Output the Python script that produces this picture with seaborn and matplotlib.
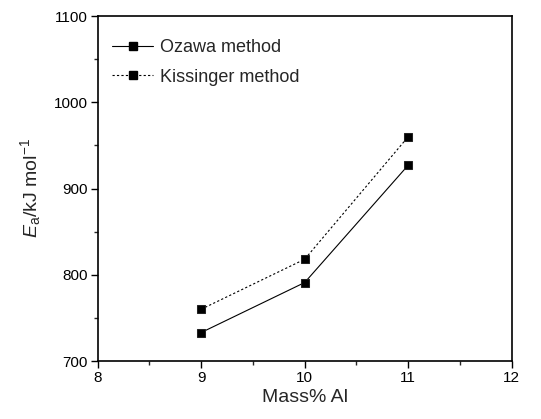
import matplotlib
matplotlib.use("Agg")
import matplotlib.pyplot as plt
from matplotlib.lines import Line2D
from matplotlib.ticker import MultipleLocator
import seaborn as sns
import pandas as pd

mass_al = [9, 10, 11]
ozawa = [733, 791, 927]
kissinger = [760, 818, 960]
series_names = ["Ozawa method", "Kissinger method"]

sns.set_style("ticks")
plt.rcParams['font.family'] = ['Liberation Sans', 'DejaVu Sans']
plt.rcParams['mathtext.fontset'] = 'custom'
plt.rcParams['mathtext.it'] = 'Liberation Sans:italic'
plt.rcParams['mathtext.rm'] = 'Liberation Sans'

df = pd.DataFrame({
    "Mass% Al": mass_al * 2,
    "Ea": ozawa + kissinger,
    "method": [series_names[0]] * 3 + [series_names[1]] * 3,
})

fig = plt.figure(figsize=(5.41, 4.19), dpi=100)
ax = fig.add_axes([0.1806, 0.1384, 0.7652, 0.8234])

sns.lineplot(data=df, x="Mass% Al", y="Ea", hue="method", style="method",
             palette=["black", "black"], dashes=[(None, None), (2, 2)],
             markers=["s", "s"], markersize=5.5, markeredgecolor="#222222",
             linewidth=0.8, ax=ax, legend=False)

ax.set_xlim(8, 12)
ax.set_ylim(700, 1100)
ax.xaxis.set_major_locator(MultipleLocator(1))
ax.xaxis.set_minor_locator(MultipleLocator(0.5))
ax.yaxis.set_major_locator(MultipleLocator(100))
ax.yaxis.set_minor_locator(MultipleLocator(50))
ax.tick_params(which="major", direction="out", length=5, width=1.0, labelsize=11, colors="black", pad=2)
ax.tick_params(which="minor", direction="out", length=3, width=1.0)
for s in ax.spines.values():
    s.set_linewidth(1.2)
    s.set_color("black")

ax.set_xlabel("Mass% Al", fontsize=14, labelpad=3)
ax.set_ylabel(r"$E_{\mathrm{a}}$/kJ mol$^{-1}$", fontsize=14, labelpad=8)

handles = [
    Line2D([], [], color="black", linestyle="-", linewidth=0.8, marker="s", markersize=5.5),
    Line2D([], [], color="black", linestyle=(0, (2, 2)), linewidth=0.8, marker="s", markersize=5.5),
]
ax.legend(handles, series_names, loc="upper left", frameon=False, fontsize=13,
          handlelength=2.3, handletextpad=0.35, borderaxespad=0.5, labelspacing=0.7,
          bbox_to_anchor=(-0.005, 0.98))

fig.savefig("out.png", dpi=100)
